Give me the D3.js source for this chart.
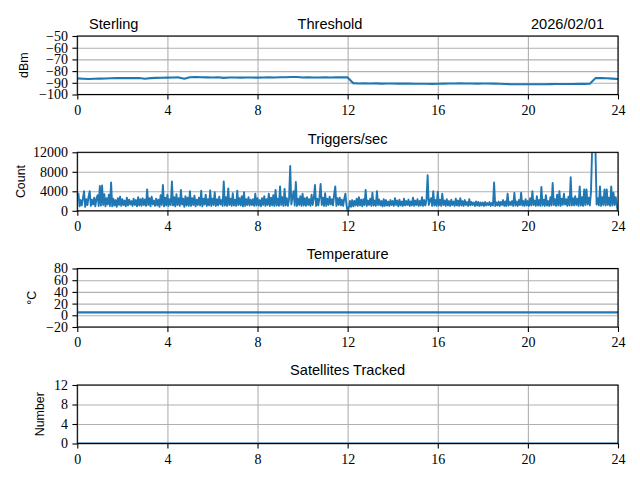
<!DOCTYPE html>
<html>
<head>
<meta charset="utf-8">
<script src="https://cdn.jsdelivr.net/npm/d3@7"></script>
<style>
  body { margin: 0; background: #fff; }
  svg { display: block; }
  .title { font-family: 'Liberation Sans', sans-serif; font-size: 14.6px; }
  .ylabel { font-family: 'Liberation Sans', sans-serif; font-size: 12.4px; }
</style>
</head>
<body>
<svg id="chart" width="640" height="480"></svg>
<script>
const station = 'Sterling';
const day = '2026/02/01';
const xTicks = [0, 4, 8, 12, 16, 20, 24];

// threshold, one value every 15 min
const thresholdStep = 0.25;
const thresholdValues = [
  -86.2, -86.5, -86.8, -86.6, -86.4, -86.3, -86.1, -86.0, -86.0, -85.9, -86.0, -85.9,
  -86.5, -86.0, -85.8, -85.7, -85.6, -85.5, -85.4, -86.6, -85.2, -85.1, -85.3, -85.4,
  -85.5, -85.3, -85.8, -85.5, -85.5, -85.6, -85.5, -85.5, -85.6, -85.5, -85.4, -85.5,
  -85.3, -85.2, -85.0, -85.1, -85.5, -85.4, -85.5, -85.5, -85.4, -85.5, -85.4, -85.3,
  -85.4, -90.3, -90.6, -90.5, -90.6, -90.5, -90.7, -90.6, -90.6, -90.7, -90.6, -90.7,
  -90.8, -90.8, -90.8, -90.9, -90.8, -90.7, -90.6, -90.6, -90.5, -90.6, -90.6, -90.7,
  -90.6, -90.6, -90.7, -90.8, -91.0, -91.2, -91.3, -91.3, -91.2, -91.3, -91.2, -91.2,
  -91.1, -91.0, -91.0, -91.0, -91.0, -90.9, -90.9, -90.8, -86.0, -85.9, -86.1, -86.4,
  -86.8,
];
const thresholdTicks = [-100, -90, -80, -70, -60, -50];

// triggers/sec, one value every 3 min (one row per hour)
const triggerStep = 0.05;
const triggerValues = [
  2800, 3500, 900, 2200, 1100, 2600, 4000, 800, 2400, 1200, 2900, 4000, 1000, 2300, 1300, 2700, 900, 2500, 3200, 1000,
  5100, 1100, 5200, 1200, 3400, 900, 2600, 1300, 3300, 1000, 5800, 900, 2500, 1100, 2200, 800, 2600, 1200, 2900, 1000,
  2400, 1200, 2100, 900, 2700, 1100, 2300, 1300, 2000, 1000, 2500, 1200, 2200, 900, 2800, 1100, 2400, 1000, 2600, 1200,
  2300, 1000, 4400, 1200, 2600, 900, 2900, 1300, 2100, 1000, 2500, 1100, 2300, 800, 3200, 1200, 5300, 900, 2700, 1100,
  3300, 1000, 2400, 1200, 6000, 1100, 2800, 900, 3400, 1200, 2600, 1000, 4300, 1300, 2500, 800, 3000, 1100, 2700, 1000,
  4000, 1000, 2600, 1200, 3100, 900, 2300, 1200, 2700, 1100, 4100, 900, 2500, 1300, 3300, 1000, 2400, 1100, 4200, 1000,
  2500, 1200, 3800, 1000, 2400, 1100, 2900, 1300, 2200, 1000, 6000, 1100, 2800, 1000, 4600, 1200, 2500, 1000, 3600, 1100,
  2300, 1000, 4100, 1200, 2600, 1100, 3000, 900, 3800, 1000, 2400, 1200, 2800, 1100, 2300, 1200, 2400, 1000, 3500, 1100,
  2600, 1100, 2200, 900, 2600, 1200, 3000, 1000, 2400, 1200, 3500, 1000, 2700, 1100, 3200, 1000, 4300, 1100, 2500, 1000,
  5000, 1200, 2800, 1000, 4500, 1100, 2600, 1000, 2400, 9200, 1300, 2700, 4000, 1100, 5900, 1000, 2500, 1200, 3000, 1000,
  3500, 1100, 2600, 1000, 2800, 1200, 2400, 1000, 3300, 1200, 2600, 5300, 1000, 2500, 1100, 2800, 5500, 1200, 2700, 1000,
  3600, 1000, 2500, 1200, 2900, 1300, 2400, 1100, 3300, 5000, 1000, 2600, 1200, 2700, 1100, 2300, 1000, 2500, 3500, 1100,
  -200, 600, 2000, 800, 2200, 900, 2000, 1100, 2500, 1000, 2800, 1100, 2300, 900, 2400, 1200, 4300, 1000, 2100, 1200,
  2500, 1000, 3700, 1100, 2100, 1000, 4000, 1200, 2300, 1100, 2000, 900, 2400, 1000, 2200, 1100, 1900, 1000, 2200, 1200,
  2000, 1000, 2600, 1200, 2100, 900, 2300, 1100, 1900, 1000, 2500, 1100, 2000, 1200, 2300, 1000, 1900, 1100, 2700, 1000,
  2100, 1200, 2400, 1000, 2000, 1100, 2800, 1000, 2200, 1100, 2300, 7300, 1200, 2100, 2600, 1000, 4000, 1100, 2200, 1000,
  3900, 1100, 2300, 1000, 3500, 1200, 2100, 1000, 2400, 1100, 2000, 1000, 2300, 1200, 1900, 1000, 2500, 1100, 2100, 1000,
  2600, 1100, 2000, 1000, 2200, 1200, 1800, 1000, 2400, 1100, 1800, 1200, 1700, 1000, 1900, 1100, 1800, 1000, 1700, 1100,
  1700, 1000, 1800, 1100, 1600, 1200, 1800, 1000, 1600, 1100, 5800, 1000, 1700, 1100, 1900, 1000, 1800, 1200, 2200, 1000,
  1900, 1000, 3500, 1100, 1800, 1200, 2000, 1000, 3700, 1100, 1900, 1000, 2200, 1200, 3700, 1100, 2000, 1000, 2400, 1100,
  2000, 1000, 2600, 1100, 4000, 1200, 2100, 1000, 3000, 1100, 2200, 1000, 4900, 1100, 2300, 1000, 3200, 1100, 2000, 1000,
  2800, 1100, 5700, 1200, 2400, 1000, 3300, 1100, 4000, 1000, 2500, 1200, 3500, 1300, 2400, 1000, 2900, 1100, 6900, 1100,
  2600, 1100, 3000, 1200, 2500, 1000, 5000, 1100, 2800, 1000, 4400, 1200, 4400, 1300, 2700, 1100, 3800, 12500, 12500, 12500,
  12500, 1300, 2600, 1100, 5000, 1000, 2800, 1200, 4400, 1100, 4400, 1200, 2700, 1000, 5000, 1100, 3700, 1200, 2800, 1000,
  -300,
];
const triggerTicks = [0, 4000, 8000, 12000];

// temperature and satellites, one value every 6 h
const slowStep = 6;
const temperatureValues = [5, 5, 5, 5, 5];
const temperatureTicks = [-20, 0, 20, 40, 60, 80];
const satelliteValues = [0, 0, 0, 0, 0];
const satelliteTicks = [0, 4, 8, 12];

const svg = d3.select('#chart');
const left = 77.3; const right = 618;
const panelHeight = 58.5;
const blue = '#1f77b4';
const tickFont = '\'Liberation Serif\', \'DejaVu Serif\', serif';

const panels = [
  {top: 36, titleGap: 7.5, title: 'Threshold', label: 'dBm', labelX: 24, domain: [-100, -50], ticks: thresholdTicks, step: thresholdStep, values: thresholdValues, width: 2.1},
  {top: 152.3, titleGap: 8, title: 'Triggers/sec', label: 'Count', labelX: 21, domain: [0, 12000], ticks: triggerTicks, step: triggerStep, values: triggerValues, width: 1.9},
  {top: 268.5, titleGap: 10, title: 'Temperature', label: '°C', labelX: 32, domain: [-20, 80], ticks: temperatureTicks, step: slowStep, values: temperatureValues, width: 2.1},
  {top: 385, titleGap: 10, title: 'Satellites Tracked', label: 'Number', labelX: 40, domain: [0, 12], ticks: satelliteTicks, step: slowStep, values: satelliteValues, width: 2.1},
];

const x = d3.scaleLinear().domain([0, 24]).range([left, right]);

const styleTicks = (a)=>{
  a.select('.domain').remove();
  a.selectAll('.tick line').attr('stroke', '#000').attr('stroke-width', 1.1);
  a.selectAll('.tick text')
      .style('font-family', tickFont)
      .style('font-size', '14px')
      .style('fill', '#000');
};

panels.forEach((p, pi)=>{
  const y = d3.scaleLinear().domain(p.domain).range([p.top+panelHeight, p.top]);
  const g = svg.append('g');

  // grid
  g.append('g')
      .attr('transform', `translate(0,${p.top+panelHeight})`)
      .call(d3.axisBottom(x).tickValues(xTicks).tickSize(-panelHeight).tickFormat(''))
      .call((a)=>a.select('.domain').remove())
      .selectAll('line').attr('stroke', '#b0b0b0').attr('stroke-width', 1.1);
  g.append('g')
      .attr('transform', `translate(${left},0)`)
      .call(d3.axisLeft(y).tickValues(p.ticks).tickSize(-(right-left)).tickFormat(''))
      .call((a)=>a.select('.domain').remove())
      .selectAll('line').attr('stroke', '#b0b0b0').attr('stroke-width', 1.1);

  // data line, clipped to the axes box
  svg.append('clipPath').attr('id', 'clip'+pi)
      .append('rect')
      .attr('x', left).attr('y', p.top)
      .attr('width', right-left).attr('height', panelHeight);

  const line = d3.line()
      .x((d, i)=>x(i*p.step))
      .y((d)=>y(d));

  g.append('path')
      .datum(p.values)
      .attr('clip-path', `url(#clip${pi})`)
      .attr('d', line)
      .style('fill', 'none')
      .style('stroke', blue)
      .style('stroke-width', p.width)
      .style('stroke-linejoin', 'round');

  // axes
  g.append('g')
      .attr('transform', `translate(0,${p.top+panelHeight})`)
      .call(d3.axisBottom(x).tickValues(xTicks).tickSize(4.9).tickPadding(3.5).tickSizeOuter(0))
      .call(styleTicks)
      .call((a)=>a.selectAll('.tick text').attr('dy', '0.85em'));
  g.append('g')
      .attr('transform', `translate(${left},0)`)
      .call(d3.axisLeft(y).tickValues(p.ticks).tickSize(4.9).tickPadding(4.4).tickSizeOuter(0).tickFormat(d3.format('d')))
      .call(styleTicks);

  g.append('rect')
      .attr('x', left).attr('y', p.top)
      .attr('width', right-left).attr('height', panelHeight)
      .style('fill', 'none')
      .style('stroke', '#000')
      .style('stroke-width', 1.1);

  g.append('text')
      .attr('class', 'title')
      .attr('x', pi == 0 ? 330 : (left+right)/2)
      .attr('y', p.top-p.titleGap)
      .attr('text-anchor', 'middle')
      .text(p.title);

  g.append('text')
      .attr('class', 'ylabel')
      .attr('transform', `translate(${p.labelX},${p.top+panelHeight/2}) rotate(-90)`)
      .attr('text-anchor', 'middle')
      .attr('dy', '0.35em')
      .text(p.label);
});

svg.append('text').attr('class', 'title')
    .attr('x', 89).attr('y', 28.5)
    .text(station);
svg.append('text').attr('class', 'title')
    .attr('x', 604).attr('y', 28.5)
    .attr('text-anchor', 'end')
    .text(day);
</script>
</body>
</html>
